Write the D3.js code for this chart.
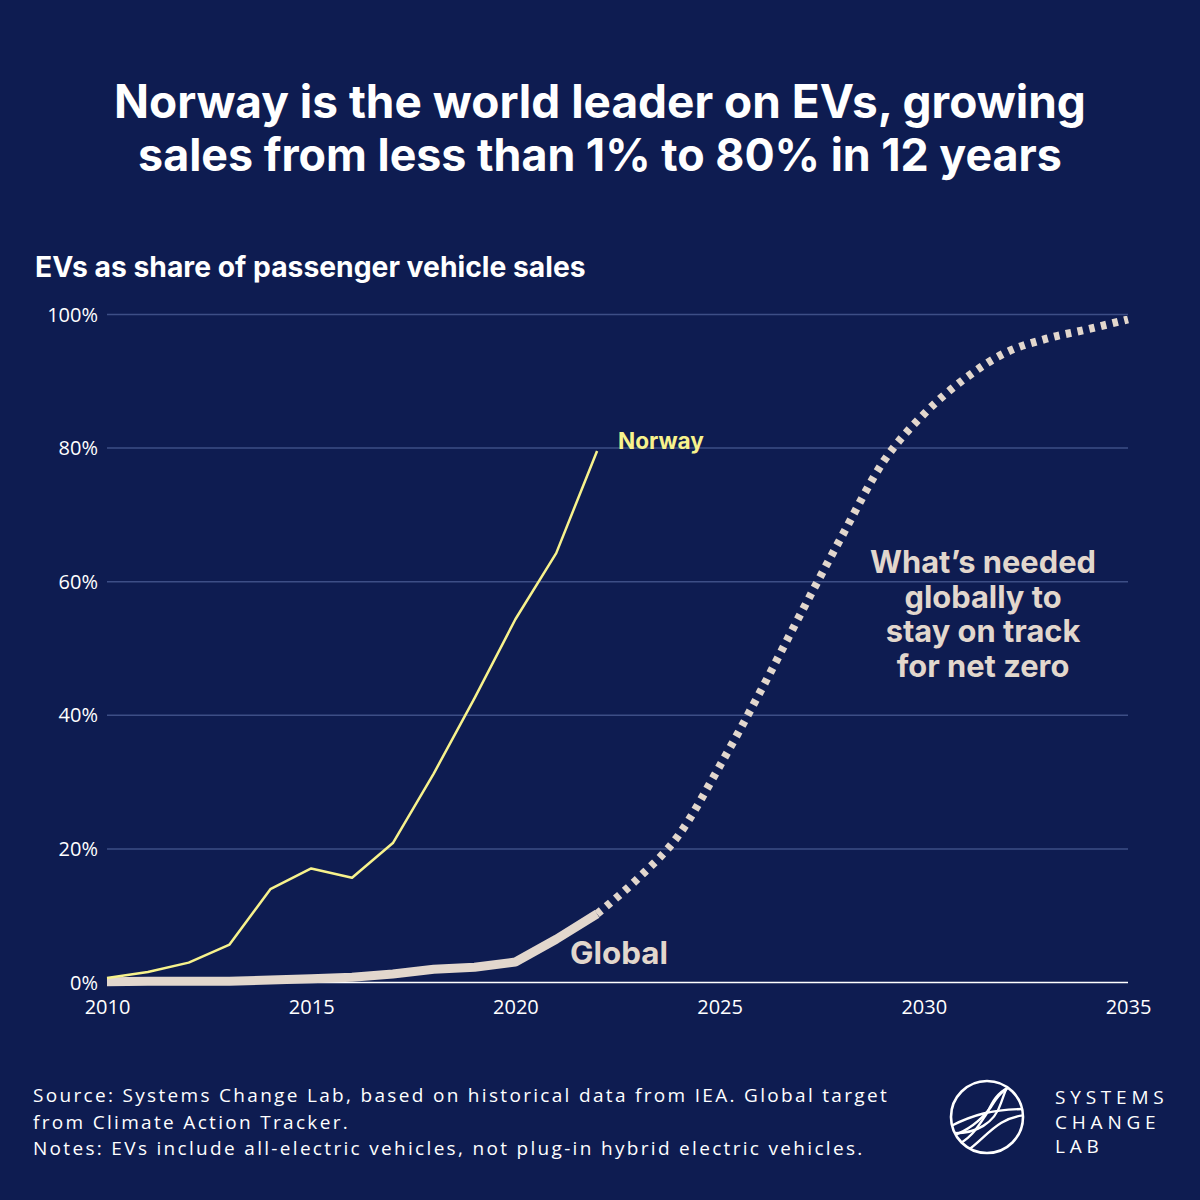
<!DOCTYPE html>
<html><head><meta charset="utf-8">
<script src="https://cdn.jsdelivr.net/npm/d3@7"></script>
<style>html,body{margin:0;padding:0;background:#0e1c51;}svg{display:block;}</style>
</head><body>
<script>
// ---- data ----
const years = [2010,2011,2012,2013,2014,2015,2016,2017,2018,2019,2020,2021,2022];
const norway = [0.6,1.5,2.9,5.6,13.9,17.0,15.6,20.8,31.2,42.5,54.3,64.2,79.5];
const global = [0.05,0.1,0.1,0.1,0.3,0.5,0.7,1.2,1.9,2.2,3.0,6.4,10.2];
const projYears = [2022,2023,2024,2025,2026,2027,2028,2029,2030,2031,2032,2033,2034,2035];
const projection = [10.2,15.5,22,32.3,43.5,55.3,66.8,77.8,85,90.3,94.2,96.3,97.7,99.2];
const yTicks = [0,20,40,60,80,100];
const xTicks = [2010,2015,2020,2025,2030,2035];
const titleLines = ["Norway is the world leader on EVs, growing","sales from less than 1% to 80% in 12 years"];
const subtitle = "EVs as share of passenger vehicle sales";
const annotation = ["What\u2019s needed","globally to","stay on track","for net zero"];
const footer = ["Source: Systems Change Lab, based on historical data from IEA. Global target","from Climate Action Tracker.","Notes: EVs include all-electric vehicles, not plug-in hybrid electric vehicles."];
const logoText = ["SYSTEMS","CHANGE","LAB"];

const BG="#0e1c51", YELLOW="#f7f28c", BEIGE="#e2d7cd", GRID="#3d4e86";
const BOLD="Inter, 'Open Sans', sans-serif";
const REG="'Open Sans', sans-serif";

const svg = d3.select("body").append("svg").attr("width",1200).attr("height",1200);
svg.append("rect").attr("width",1200).attr("height",1200).attr("fill",BG);

function fit(sel, w){
  const n = sel.node(); const fs = parseFloat(sel.attr("font-size"));
  const cur = n.getComputedTextLength();
  sel.attr("font-size", fs*w/cur);
  return sel;
}
function spread(sel, w){
  const n = sel.node(); const cur = n.getComputedTextLength();
  const len = sel.text().length;
  sel.attr("letter-spacing", (w-cur)/len);
  return sel;
}

// title
const tW=[972,924], tY=[118,171];
titleLines.forEach((t,i)=>{
  fit(svg.append("text").attr("x",600).attr("y",tY[i]).attr("text-anchor","middle")
    .attr("font-family",BOLD).attr("font-weight",700).attr("font-size",42).attr("fill","#fff").text(t), tW[i]);
});
fit(svg.append("text").attr("x",35).attr("y",277).attr("font-family",BOLD).attr("font-weight",700)
  .attr("font-size",22).attr("fill","#fff").text(subtitle),551);

// scales
const x = d3.scaleLinear().domain([2010,2035]).range([107,1128]);
const y = d3.scaleLinear().domain([0,100]).range([982,314]);

// gridlines via axis
const gy = svg.append("g").attr("transform","translate(107,0)")
  .call(d3.axisLeft(y).tickValues(yTicks).tickSize(-(1128-107)).tickFormat(d=>d+"%").tickPadding(9));
gy.select(".domain").remove();
gy.selectAll(".tick line").attr("stroke",GRID).attr("stroke-width",1.5);
gy.selectAll(".tick").filter(d=>d===0).select("line").attr("stroke","#ffffff").attr("stroke-width",1.6);
gy.selectAll(".tick text").attr("fill","#fff").attr("font-family",REG)
  .attr("font-size",20).attr("font-weight",400).attr("dy","0.35em");

const gx = svg.append("g").attr("transform","translate(0,982)")
  .call(d3.axisBottom(x).tickValues(xTicks).tickFormat(d3.format("d")).tickSize(0).tickPadding(18));
gx.select(".domain").remove();
gx.selectAll(".tick text").attr("fill","#fff").attr("font-family",REG)
  .attr("font-size",20).attr("font-weight",400);

// lines
const curved = d3.line().x(d=>x(d[0])).y(d=>y(d[1])).curve(d3.curveMonotoneX);
const straight = d3.line().x(d=>x(d[0])).y(d=>y(d[1]));
svg.append("path").datum(projYears.map((yr,i)=>[yr,projection[i]]))
  .attr("d", curved).attr("fill","none").attr("stroke",BEIGE)
  .attr("stroke-width",8).attr("stroke-dasharray","5.5,6.5");
svg.append("path").datum(years.map((yr,i)=>[yr,global[i]]))
  .attr("d", straight).attr("fill","none").attr("stroke",BEIGE).attr("stroke-width",9).attr("stroke-linejoin","round");
svg.append("path").datum(years.map((yr,i)=>[yr,norway[i]]))
  .attr("d", straight).attr("fill","none").attr("stroke",YELLOW).attr("stroke-width",2.5).attr("stroke-linejoin","round");

// labels
fit(svg.append("text").attr("x",618).attr("y",449).attr("font-family",BOLD).attr("font-weight",700)
  .attr("font-size",20).attr("fill",YELLOW).text("Norway"),86);
fit(svg.append("text").attr("x",570).attr("y",964).attr("font-family",BOLD).attr("font-weight",700)
  .attr("font-size",27).attr("fill",BEIGE).text("Global"),98);
let annFs=27;
annotation.forEach((t,i)=>{
  const s=svg.append("text").attr("x",983).attr("y",573+i*34.7).attr("text-anchor","middle")
   .attr("font-family",BOLD).attr("font-weight",700).attr("font-size",27).attr("fill",BEIGE).text(t);
  if(i===0){ fit(s,226); annFs=parseFloat(s.attr("font-size")); } else s.attr("font-size",annFs);
});

// footer
let fLs=0;
footer.forEach((t,i)=>{
  const s=svg.append("text").attr("x",33).attr("y",1102+i*26.5).attr("font-family",REG)
    .attr("font-weight",400).attr("font-size",19).attr("fill","#fff").text(t);
  if(i===0){ spread(s,856); fLs=parseFloat(s.attr("letter-spacing")); } else s.attr("letter-spacing",fLs);
});

// logo
const lg = svg.append("g").attr("transform","translate(987,1117)");
lg.append("clipPath").attr("id","lc").append("circle").attr("r",36);
lg.append("circle").attr("r",36).attr("fill","none").attr("stroke","#fff").attr("stroke-width",2.6);
const lc = lg.append("g").attr("clip-path","url(#lc)").attr("fill","none").attr("stroke","#fff").attr("stroke-width",2.4);
lc.append("path").attr("d","M-38,10 C-15,-2 5,-8 40,-8");
lc.append("path").attr("d","M-38,20 C-18,14 -5,2 4,-10 C10,-20 16,-28 30,-34");
lc.append("path").attr("d","M-34,30 C-15,22 -8,8 0,-4 C6,-16 10,-24 22,-30");
lc.append("path").attr("d","M-38,16 C-10,18 8,5 14,-14 C17,-24 22,-34 26,-40");
lc.append("path").attr("d","M-20,34 C0,20 10,0 40,-2");
logoText.forEach((t,i)=>{
  svg.append("text").attr("x",1055).attr("y",1104+i*24.5).attr("font-family",REG)
    .attr("font-size",19).attr("letter-spacing",4.8).attr("fill","#fff").text(t);
});
</script>
</body></html>
